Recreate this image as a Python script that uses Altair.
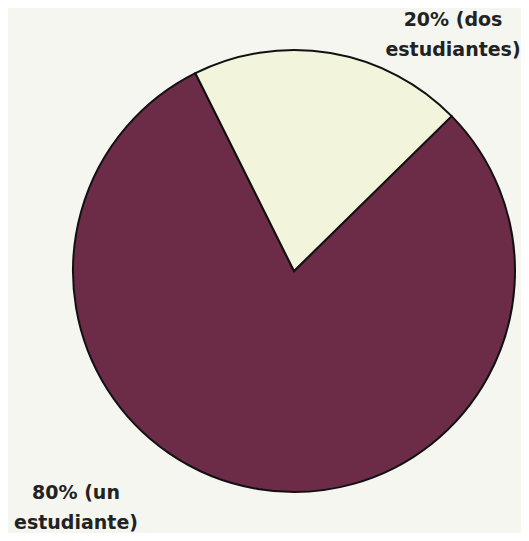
import math
import altair as alt
import pandas as pd

categories = ["un estudiante", "dos estudiantes"]
values = [80, 20]
colors = ["#6c2b47", "#f2f4dc"]
label_texts = ["20% (dos\nestudiantes)", "80% (un\nestudiante)"]

pie_df = pd.DataFrame({"cat": categories, "val": values, "order": [0, 1]})

start = math.radians(45.5)
pie = alt.Chart(pie_df).mark_arc(
    radius=221, stroke="#111111", strokeWidth=2
).encode(
    theta=alt.Theta("val:Q", stack=True,
                    scale=alt.Scale(range=[start, start + 2 * math.pi])),
    color=alt.Color("cat:N", scale=alt.Scale(domain=categories, range=colors), legend=None),
    order=alt.Order("order:Q"),
    x=alt.value(286),
    y=alt.value(263),
)

lab1 = alt.Chart(pd.DataFrame({"t": [label_texts[0]]})).mark_text(
    font="DejaVu Sans", fontWeight="bold", fontSize=19, lineBreak="\n",
    lineHeight=30, align="center", baseline="middle", color="#222222"
).encode(text="t:N", x=alt.value(445), y=alt.value(12))

lab2 = alt.Chart(pd.DataFrame({"t": [label_texts[1]]})).mark_text(
    font="DejaVu Sans", fontWeight="bold", fontSize=19, lineBreak="\n",
    lineHeight=30, align="center", baseline="middle", color="#222222"
).encode(text="t:N", x=alt.value(68), y=alt.value(485))

chart = alt.layer(pie, lab1, lab2).properties(
    width=513, height=525,
    autosize=alt.AutoSizeParams(type="fit", contains="padding"),
    padding=0,
    background="#f4f6ef",
).configure_view(stroke=None)

chart.save("out.html", embed_options={"renderer": "svg", "actions": False})
